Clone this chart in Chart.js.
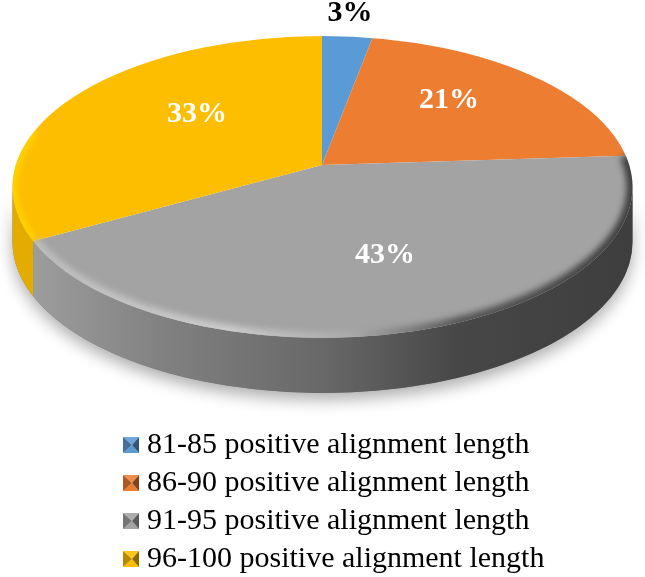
<!DOCTYPE html>
<html>
<head>
<meta charset="utf-8">
<script src="https://cdn.jsdelivr.net/npm/chart.js@4"></script>
<style>
html,body{margin:0;padding:0;background:#fff}
canvas{display:block}
</style>
</head>
<body>
<canvas id="c" width="645" height="577"></canvas>
<script>
const categories = ['81-85 positive alignment length','86-90 positive alignment length','91-95 positive alignment length','96-100 positive alignment length'];
const values = [3, 21, 43, 33];
const colors = ['#5B9BD5', '#ED7D31', '#A3A3A3', '#FDBE00'];
const labelColors = ['#000000', '#ffffff', '#ffffff', '#ffffff'];
const labelOffsets = [[28,-152],[127,-65],[63,90],[-125,-51]];

const serif = '"Liberation Serif","Times New Roman",serif';
const apex = {x:322, y:165};
const rim = {x:322.5, y:187, rx:310, ry:151, depth:55};
const squash = 0.48;

function tone(hex, f){
  const n = parseInt(hex.slice(1),16);
  const ch = [n>>16&255, n>>8&255, n&255].map(v => Math.round(f<1 ? v*f : v+(255-v)*(f-1)));
  return `rgb(${ch[0]},${ch[1]},${ch[2]})`;
}
function marker(hex){
  const s = 16, m = document.createElement('canvas');
  m.width = s; m.height = s;
  const g = m.getContext('2d');
  const tri = (x1,y1,x2,y2,c) => {g.fillStyle=c;g.beginPath();g.moveTo(x1,y1);g.lineTo(x2,y2);g.lineTo(s/2+1,s/2);g.closePath();g.fill();};
  tri(0,0,s,0,tone(hex,1.12));
  tri(0,s,s,s,tone(hex,1.0));
  tri(0,0,0,s,tone(hex,0.72));
  tri(s,0,s,s,tone(hex,0.55));
  return m;
}
const markers = colors.map(marker);

function edgePoint(angle, k){
  const dx = Math.cos(angle)*k, dy = Math.sin(angle)*k*squash;
  const ox = (apex.x-rim.x)/rim.rx, oy = (apex.y-rim.y)/rim.ry;
  const ax = dx/rim.rx, ay = dy/rim.ry;
  const A = ax*ax+ay*ay, B = 2*(ox*ax+oy*ay), C = ox*ox+oy*oy-1;
  const t = (-B+Math.sqrt(B*B-4*A*C))/(2*A);
  return Math.atan2(oy+ay*t, ox+ax*t);
}
function span(arc){
  let t0 = edgePoint(arc.startAngle, 400), t1 = edgePoint(arc.endAngle, 400);
  if (t1 < t0) t1 += 2*Math.PI;
  return [t0, t1];
}

function wallPath(ctx, t0, t1){
  ctx.beginPath();
  ctx.ellipse(rim.x, rim.y, rim.rx, rim.ry, 0, t0, t1, false);
  ctx.ellipse(rim.x, rim.y+rim.depth, rim.rx, rim.ry, 0, t1, t0, true);
  ctx.closePath();
}

const pie3d = {
  id:'pie3d',
  beforeDatasetsDraw(chart){
    const ctx = chart.ctx, arcs = chart.getDatasetMeta(0).data;
    const a0 = arcs[0], k = 400/a0.outerRadius;
    // ground shadow
    ctx.save();
    ctx.shadowColor = 'rgba(0,0,0,0.32)';
    ctx.shadowBlur = 16;
    ctx.shadowOffsetY = 7;
    ctx.fillStyle = '#777';
    wallPath(ctx, 0, Math.PI);
    ctx.fill();
    ctx.restore();
    // side wall, one piece per slice, taken from the arc elements
    arcs.forEach((arc,i) => {
      const [t0,t1] = span(arc);
      // only the near half of the rim shows a wall
      const from = Math.max(t0, 0), to = Math.min(t1, Math.PI);
      const from2 = Math.max(t0 + 2*Math.PI, 0), to2 = Math.min(t1 + 2*Math.PI, Math.PI);
      const a = to > from ? from : from2, b = to > from ? to : to2;
      if (b <= a) return;
      let fill;
      if (i === 2) {
        fill = ctx.createLinearGradient(rim.x-rim.rx, 0, rim.x+rim.rx, 0);
        fill.addColorStop(0.04, '#9c9c9c');
        fill.addColorStop(0.25, '#808080');
        fill.addColorStop(0.50, '#686868');
        fill.addColorStop(0.72, '#474747');
        fill.addColorStop(1, '#3e3e3e');
      } else fill = tone(colors[i], 0.9);
      ctx.fillStyle = fill;
      wallPath(ctx, a, b);
      ctx.fill();
    });
    // top face: slices come from the library's arcs, mapped onto the rim
    ctx.save();
    ctx.beginPath();
    ctx.ellipse(rim.x, rim.y, rim.rx, rim.ry, 0, 0, 2*Math.PI);
    ctx.clip();
    ctx.translate(apex.x, apex.y);
    ctx.scale(k, k*squash);
    ctx.translate(-a0.x, -a0.y);
  },
  afterDatasetsDraw(chart){
    const ctx = chart.ctx, arcs = chart.getDatasetMeta(0).data;
    ctx.restore();
    // soft bevel along the near rim
    ctx.save();
    ctx.beginPath();
    ctx.ellipse(rim.x, rim.y, rim.rx, rim.ry, 0, 0, 2*Math.PI);
    ctx.clip();
    ctx.filter = 'blur(3px)';
    arcs.forEach((arc,i) => {
      if (i !== 2 && i !== 3) return;
      const [t0,t1] = span(arc);
      const to = i === 3 ? Math.min(t1, Math.PI*1.12) : t1;
      let stroke;
      if (i === 2) {
        stroke = ctx.createLinearGradient(rim.x-rim.rx, 0, rim.x+rim.rx, 0);
        stroke.addColorStop(0.04, '#bcbcbc');
        stroke.addColorStop(0.35, '#cccccc');
        stroke.addColorStop(0.55, '#a8a8a8');
        stroke.addColorStop(0.72, '#555555');
        stroke.addColorStop(1, '#3e3e3e');
        ctx.lineWidth = 12;
      } else { stroke = '#ffd200'; ctx.lineWidth = 10; }
      ctx.strokeStyle = stroke;
      ctx.beginPath();
      ctx.ellipse(rim.x, rim.y, rim.rx, rim.ry, 0, t0, to);
      ctx.stroke();
    });
    ctx.restore();
    // value labels
    ctx.save();
    ctx.font = `bold 30px ${serif}`;
    ctx.textAlign = 'center';
    ctx.textBaseline = 'middle';
    values.forEach((v,i) => {
      ctx.fillStyle = labelColors[i];
      ctx.fillText(v + '%', apex.x + labelOffsets[i][0], apex.y + labelOffsets[i][1]);
    });
    ctx.restore();
  },
  afterLayout(chart){
    const lg = chart.legend;
    lg.left = 122;
    lg.right = 645;
    lg.top = 422;
  }
};

new Chart(document.getElementById('c'), {
  type:'pie',
  data:{
    labels:categories,
    datasets:[{data:values, backgroundColor:colors, borderWidth:0}]
  },
  plugins:[pie3d],
  options:{
    responsive:false,
    animation:false,
    rotation:0,
    layout:{padding:0},
    plugins:{
      tooltip:{enabled:false},
      legend:{
        position:'bottom',
        align:'start',
        labels:{
          usePointStyle:true,
          boxWidth:2,
          boxHeight:16,
          padding:8,
          color:'#000',
          font:{family:serif, size:30},
          generateLabels(){
            return categories.map((t,i) => ({text:t, pointStyle:markers[i], fillStyle:colors[i], strokeStyle:colors[i], lineWidth:0, hidden:false, index:i, fontColor:'#000'}));
          }
        }
      }
    }
  }
});
</script>
</body>
</html>
